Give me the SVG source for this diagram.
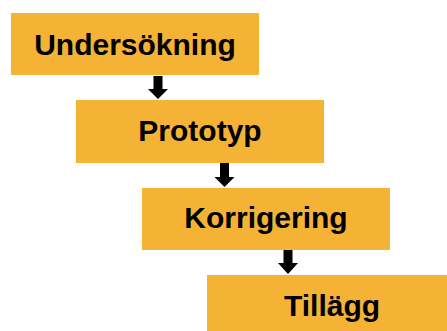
<svg xmlns="http://www.w3.org/2000/svg" width="447" height="331" viewBox="0 0 447 331">
<style>
.box{fill:#F5B335;}
.lbl{font-family:"Liberation Sans",Arial,sans-serif;font-weight:bold;font-size:30px;fill:#000;text-anchor:middle;}
.arr{fill:#000;}
</style>
<rect width="447" height="331" fill="#fff"/>
<g id="undersokning">
<rect class="box" x="11" y="13" width="248" height="62"/>
<text class="lbl" x="135" y="55">Undersökning</text>
</g>
<g id="prototyp">
<rect class="box" x="76" y="100" width="248" height="63"/>
<text class="lbl" x="200" y="141">Prototyp</text>
</g>
<g id="korrigering">
<rect class="box" x="142" y="188" width="248" height="62"/>
<text class="lbl" x="266" y="228">Korrigering</text>
</g>
<g id="tillagg">
<rect class="box" x="207" y="275" width="248" height="62"/>
<text class="lbl" x="332" y="316">Tillägg</text>
</g>
<g id="connectors">
<path class="arr" d="M153.5,76 H162.5 V89 H168 L158,99 L148,89 H153.5 Z"/>
<path class="arr" d="M220,163 H229 V177 H234.5 L224.5,187 L214.5,177 H220 Z"/>
<path class="arr" d="M283.5,250 H292.5 V263 H298 L288,274 L278,263 H283.5 Z"/>
</g>
</svg>
